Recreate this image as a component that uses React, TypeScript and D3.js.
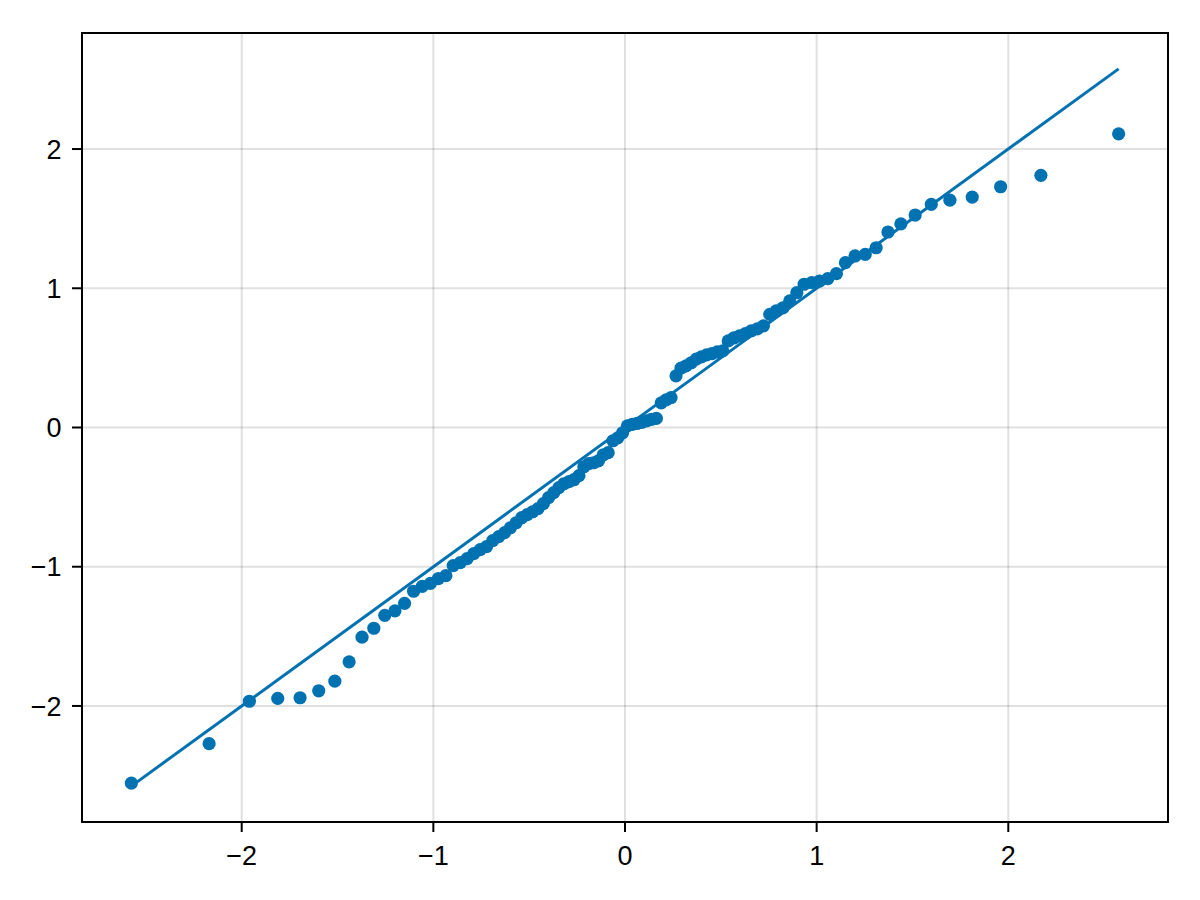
import React from "react";
import * as d3 from "d3";

// Theoretical normal quantiles, p = (i - 0.5) / 100, lower half (upper half mirrors)
const quantilesLower: number[] = [
  -2.5758, -2.1701, -1.96, -1.8119, -1.6954, -1.5982, -1.5141, -1.4395, -1.3722, -1.3106,
  -1.2536, -1.2004, -1.1503, -1.1031, -1.0581, -1.0152, -0.9741, -0.9346, -0.8965, -0.8596,
  -0.8239, -0.7892, -0.7554, -0.7225, -0.6903, -0.6588, -0.628, -0.5978, -0.5681, -0.5388,
  -0.5101, -0.4817, -0.4538, -0.4261, -0.3989, -0.3719, -0.3451, -0.3186, -0.2924, -0.2663,
  -0.2404, -0.2147, -0.1891, -0.1637, -0.1383, -0.113, -0.0878, -0.0627, -0.0376, -0.0125,
];
const theoretical: number[] = [...quantilesLower, ...quantilesLower.slice().reverse().map((v) => -v)];

// Sorted sample values
const sample: number[] = [
  -2.554, -2.271, -1.966, -1.946, -1.941, -1.891, -1.822, -1.683, -1.506, -1.442,
  -1.349, -1.317, -1.263, -1.176, -1.141, -1.119, -1.085, -1.064, -0.992, -0.971,
  -0.942, -0.906, -0.877, -0.856, -0.813, -0.784, -0.755, -0.72, -0.684, -0.648,
  -0.626, -0.605, -0.583, -0.547, -0.504, -0.468, -0.432, -0.404, -0.389, -0.375,
  -0.346, -0.282, -0.26, -0.253, -0.239, -0.196, -0.181, -0.095, -0.074, -0.038,
  0.012, 0.023, 0.029, 0.037, 0.048, 0.059, 0.065, 0.177, 0.199, 0.215,
  0.371, 0.426, 0.443, 0.464, 0.491, 0.507, 0.522, 0.531, 0.543, 0.55,
  0.622, 0.643, 0.658, 0.674, 0.694, 0.708, 0.73, 0.813, 0.837, 0.859,
  0.909, 0.968, 1.029, 1.04, 1.052, 1.069, 1.105, 1.184, 1.232, 1.244,
  1.291, 1.404, 1.463, 1.526, 1.603, 1.633, 1.655, 1.729, 1.811, 2.109,
];

const xTicks: number[] = [-2, -1, 0, 1, 2];
const yTicks: number[] = [-2, -1, 0, 1, 2];

const W = 1200;
const H = 900;
const M = { left: 82, right: 1168, top: 33, bottom: 822 };
const COLOR = "#0072B2";
const FONT = "'Liberation Sans', Arial, Helvetica, sans-serif";

export default function App() {
  const lineX = d3.extent(theoretical) as [number, number];
  const xExt = lineX;
  const allY = [...sample, lineX[0], lineX[1]];
  const yExt = d3.extent(allY) as [number, number];
  const padX = (xExt[1] - xExt[0]) * 0.05;
  const padY = (yExt[1] - yExt[0]) * 0.05;
  const x = d3.scaleLinear().domain([xExt[0] - padX, xExt[1] + padX]).range([M.left, M.right]);
  const y = d3.scaleLinear().domain([yExt[0] - padY, yExt[1] + padY]).range([M.bottom, M.top]);
  const pts = theoretical.map((t, i) => [t, sample[i]] as [number, number]);
  const linePath = d3
    .line<[number, number]>()
    .x((d) => x(d[0]))
    .y((d) => y(d[1]))([
    [lineX[0], lineX[0]],
    [lineX[1], lineX[1]],
  ]);
  const fmt = (v: number) => (v < 0 ? "\u2212" + Math.abs(v) : String(v));

  return (
    <div style={{ position: "absolute", left: 0, top: 0 }}>
      <svg width={W} height={H} style={{ display: "block", background: "#fff" }}>
        <rect x={0} y={0} width={W} height={H} fill="#fff" />
        {xTicks.map((t) => (
          <line key={"gx" + t} x1={x(t)} x2={x(t)} y1={M.top} y2={M.bottom} stroke="rgba(0,0,0,0.12)" strokeWidth={2} />
        ))}
        {yTicks.map((t) => (
          <line key={"gy" + t} x1={M.left} x2={M.right} y1={y(t)} y2={y(t)} stroke="rgba(0,0,0,0.12)" strokeWidth={2} />
        ))}
        {pts.map((d, i) => (
          <circle key={i} cx={x(d[0])} cy={y(d[1])} r={6.6} fill={COLOR} />
        ))}
        <path d={linePath || ""} fill="none" stroke={COLOR} strokeWidth={3} />
        <rect x={M.left} y={M.top} width={M.right - M.left} height={M.bottom - M.top} fill="none" stroke="#000" strokeWidth={2} />
        {xTicks.map((t) => (
          <g key={"tx" + t}>
            <line x1={x(t)} x2={x(t)} y1={M.bottom} y2={M.bottom + 10} stroke="#000" strokeWidth={2} />
            <text x={x(t)} y={864.5} textAnchor="middle" fontFamily={FONT} fontSize={27} fill="#000">
              {fmt(t)}
            </text>
          </g>
        ))}
        {yTicks.map((t) => (
          <g key={"ty" + t}>
            <line x1={M.left - 10} x2={M.left} y1={y(t)} y2={y(t)} stroke="#000" strokeWidth={2} />
            <text x={61.5} y={y(t)} dy="0.36em" textAnchor="end" fontFamily={FONT} fontSize={27} fill="#000">
              {fmt(t)}
            </text>
          </g>
        ))}
      </svg>
    </div>
  );
}
